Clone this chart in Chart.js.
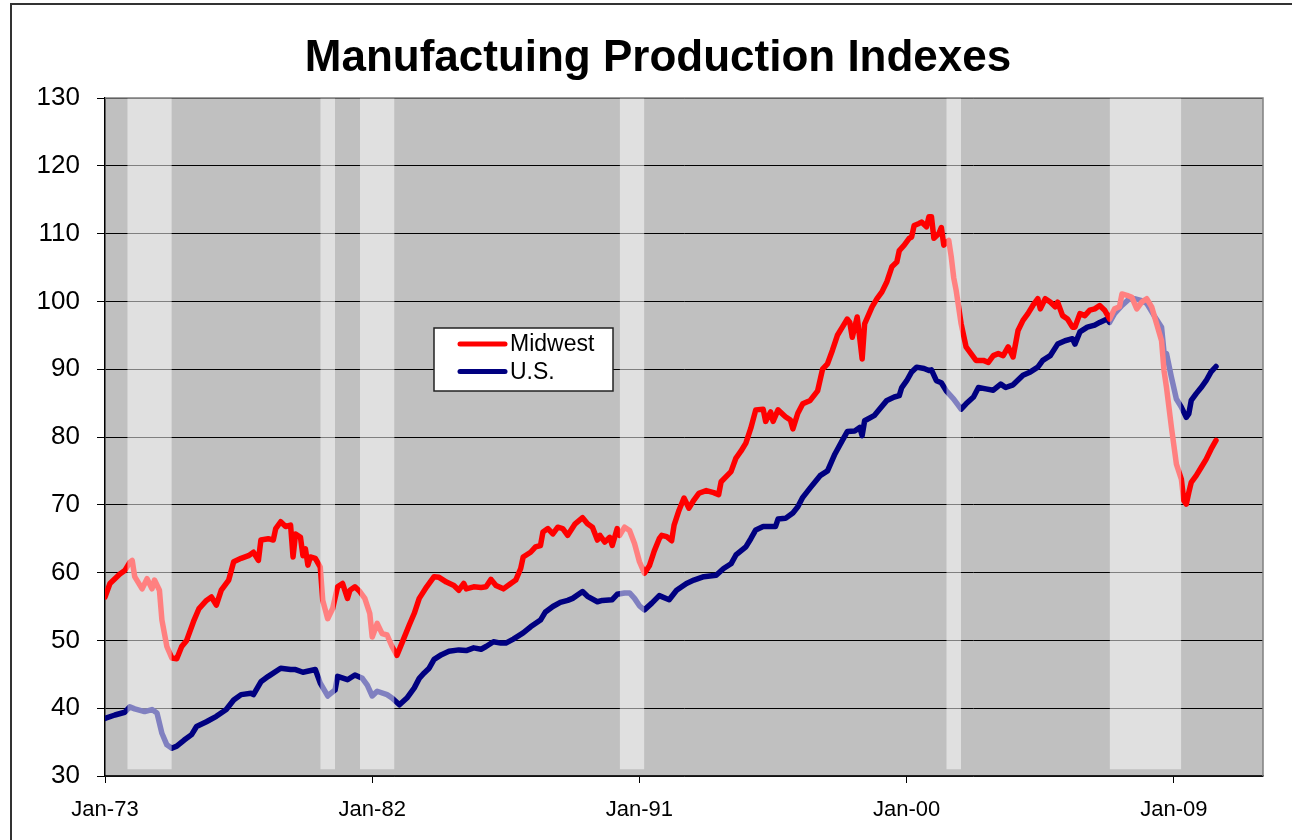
<!DOCTYPE html>
<html lang="en">
<head>
<meta charset="utf-8">
<title>Manufactuing Production Indexes</title>
<script src="https://cdn.jsdelivr.net/npm/chart.js@4.4.1/dist/chart.umd.min.js"></script>
<style>
  html, body { margin: 0; padding: 0; background: #fff; }
  canvas { display: block; }
</style>
</head>
<body>
<canvas id="chart" width="1292" height="840"></canvas>
<script>
// values, month by month where the line turns
const midwestDates = [
  '1973-01','1973-03','1973-05','1973-07','1973-09','1973-11','1973-12','1974-01','1974-04','1974-06',
  '1974-08','1974-09','1974-11','1974-12','1975-02','1975-04','1975-06','1975-08','1975-10','1976-01',
  '1976-03','1976-06','1976-08','1976-10','1976-12','1977-03','1977-05','1977-08','1977-11','1978-01',
  '1978-03','1978-04','1978-07','1978-09','1978-10','1978-12','1979-02','1979-04','1979-05','1979-06',
  '1979-08','1979-09','1979-10','1979-11','1979-12','1980-02','1980-04','1980-05','1980-07','1980-09',
  '1980-11','1981-01','1981-03','1981-04','1981-06','1981-08','1981-10','1981-12','1982-01','1982-03',
  '1982-05','1982-07','1982-09','1982-11','1983-01','1983-04','1983-06','1983-08','1983-11','1984-02',
  '1984-04','1984-07','1984-10','1984-12','1985-02','1985-03','1985-06','1985-09','1985-11','1986-01',
  '1986-03','1986-06','1986-09','1986-11','1987-01','1987-02','1987-05','1987-07','1987-09','1987-10',
  '1987-12','1988-02','1988-04','1988-06','1988-08','1988-11','1989-02','1989-04','1989-06','1989-08',
  '1989-09','1989-11','1990-01','1990-02','1990-04','1990-05','1990-07','1990-09','1990-11','1991-01',
  '1991-03','1991-05','1991-07','1991-09','1991-10','1991-12','1992-02','1992-03','1992-05','1992-07',
  '1992-09','1992-11','1993-01','1993-04','1993-07','1993-09','1993-10','1994-02','1994-04','1994-06',
  '1994-08','1994-10','1994-12','1995-03','1995-04','1995-06','1995-07','1995-09','1995-12','1996-02',
  '1996-03','1996-05','1996-07','1996-10','1997-01','1997-03','1997-05','1997-07','1997-09','1997-11',
  '1998-01','1998-02','1998-03','1998-05','1998-06','1998-07','1998-08','1998-11','1999-01','1999-03',
  '1999-05','1999-07','1999-09','1999-10','1999-12','2000-02','2000-03','2000-04','2000-06','2000-07',
  '2000-09','2000-10','2000-11','2000-12','2001-02','2001-03','2001-04','2001-06','2001-07','2001-08',
  '2001-09','2001-11','2002-01','2002-03','2002-05','2002-08','2002-10','2002-12','2003-02','2003-04',
  '2003-06','2003-08','2003-10','2003-12','2004-02','2004-04','2004-06','2004-07','2004-09','2004-11',
  '2005-01','2005-02','2005-04','2005-06','2005-08','2005-09','2005-11','2006-01','2006-03','2006-05',
  '2006-07','2006-09','2006-11','2007-01','2007-03','2007-04','2007-06','2007-08','2007-10','2007-12',
  '2008-02','2008-04','2008-06','2008-08','2008-09','2008-10','2008-12','2009-02','2009-04','2009-05',
  '2009-06','2009-07','2009-08','2009-10','2009-12','2010-02','2010-04','2010-06'
];
const midwest = [
  56.4, 58.4, 59.1, 59.8, 60.3, 61.5, 61.8, 59.4, 57.6, 59.1,
  57.6, 58.9, 57.4, 53.0, 49.1, 47.4, 47.3, 49.1, 50.0, 53.0,
  54.7, 55.9, 56.4, 55.2, 57.4, 58.9, 61.6, 62.1, 62.5, 63.0,
  61.8, 64.8, 65.0, 64.8, 66.5, 67.5, 66.8, 67.0, 62.3, 65.7,
  65.2, 62.5, 63.5, 61.1, 62.3, 62.1, 60.8, 55.9, 53.2, 54.7,
  57.9, 58.4, 56.2, 57.4, 57.9, 57.2, 56.2, 54.0, 50.5, 52.5,
  51.0, 50.8, 49.1, 47.8, 49.6, 52.3, 54.0, 56.2, 57.9, 59.4,
  59.3, 58.6, 58.1, 57.4, 58.4, 57.6, 57.9, 57.8, 57.9, 59.0,
  58.1, 57.6, 58.4, 58.9, 60.6, 62.3, 63.0, 63.8, 64.0, 66.0,
  66.5, 65.7, 66.7, 66.5, 65.5, 67.2, 68.1, 67.2, 66.7, 64.8,
  65.5, 64.5, 65.2, 64.0, 66.5, 65.5, 66.7, 66.2, 64.3, 61.6,
  59.9, 61.0, 63.2, 65.0, 65.5, 65.3, 64.7, 67.0, 69.2, 71.0,
  69.5, 70.7, 71.7, 72.1, 71.8, 71.5, 73.4, 74.9, 76.9, 77.9,
  79.1, 81.3, 84.0, 84.1, 82.3, 83.7, 82.3, 84.0, 83.0, 82.5,
  81.2, 83.5, 84.9, 85.4, 86.8, 90.0, 90.8, 92.8, 95.0, 96.2,
  97.4, 96.9, 94.7, 97.7, 94.7, 91.5, 96.7, 99.2, 100.4, 101.4,
  102.9, 105.1, 105.8, 107.5, 108.3, 109.3, 109.5, 111.2, 111.5, 111.7,
  111.0, 112.5, 112.5, 109.3, 110.0, 110.9, 108.3, 109.0, 106.6, 103.5,
  101.6, 96.7, 93.3, 92.3, 91.3, 91.3, 91.0, 92.0, 92.3, 92.0,
  93.3, 91.8, 95.7, 97.2, 98.2, 99.4, 100.4, 98.9, 100.4, 99.9,
  99.2, 99.9, 97.9, 97.4, 96.2, 96.2, 98.2, 97.9, 98.7, 98.9,
  99.4, 98.7, 97.4, 98.9, 99.2, 101.1, 100.9, 100.6, 98.9, 99.9,
  100.4, 99.2, 96.7, 94.2, 89.8, 87.3, 81.4, 76.0, 73.8, 70.6,
  70.1, 71.8, 73.3, 74.3, 75.5, 76.7, 78.2, 79.5
];

const usDates = [
  '1973-01','1973-05','1973-09','1973-11','1974-01','1974-05','1974-08','1974-10','1974-12','1975-02',
  '1975-04','1975-06','1975-09','1975-12','1976-02','1976-06','1976-10','1977-02','1977-05','1977-08',
  '1977-12','1978-01','1978-04','1978-07','1978-12','1979-04','1979-06','1979-09','1980-02','1980-04',
  '1980-07','1980-10','1980-11','1981-03','1981-06','1981-09','1981-11','1982-01','1982-03','1982-07',
  '1982-09','1982-12','1983-03','1983-06','1983-08','1983-10','1983-12','1984-02','1984-05','1984-08',
  '1984-12','1985-03','1985-06','1985-09','1985-11','1986-02','1986-05','1986-07','1986-10','1987-02',
  '1987-05','1987-09','1987-11','1988-02','1988-05','1988-08','1988-10','1989-02','1989-04','1989-08',
  '1989-10','1990-02','1990-04','1990-07','1990-09','1990-11','1991-01','1991-03','1991-06','1991-09',
  '1992-01','1992-04','1992-08','1992-11','1993-03','1993-08','1993-11','1994-02','1994-04','1994-08',
  '1994-10','1994-12','1995-03','1995-06','1995-08','1995-09','1995-12','1996-03','1996-05','1996-07',
  '1996-10','1997-02','1997-05','1997-08','1997-11','1998-01','1998-04','1998-06','1998-07','1998-08',
  '1998-12','1999-02','1999-05','1999-08','1999-10','1999-11','2000-01','2000-03','2000-05','2000-08',
  '2000-10','2000-11','2001-01','2001-03','2001-05','2001-08','2001-11','2002-01','2002-04','2002-06',
  '2002-09','2002-12','2003-03','2003-05','2003-08','2003-12','2004-03','2004-06','2004-08','2004-11',
  '2005-02','2005-05','2005-08','2005-09','2005-11','2006-02','2006-05','2006-07','2006-10','2006-11',
  '2007-01','2007-04','2007-07','2007-09','2007-12','2008-02','2008-05','2008-08','2008-09','2008-10',
  '2008-12','2009-02','2009-04','2009-06','2009-07','2009-08','2009-10','2009-12','2010-02','2010-04',
  '2010-06'
];
const us = [
  38.5, 39.0, 39.4, 40.2, 39.9, 39.5, 39.8, 39.3, 36.3, 34.6,
  34.1, 34.4, 35.3, 36.1, 37.3, 38.0, 38.8, 39.8, 41.2, 42.0,
  42.2, 42.0, 43.9, 44.7, 45.9, 45.7, 45.7, 45.3, 45.7, 43.7,
  41.8, 42.7, 44.7, 44.2, 44.9, 44.4, 43.4, 41.8, 42.5, 42.0,
  41.5, 40.5, 41.5, 43.0, 44.4, 45.2, 45.9, 47.2, 47.9, 48.4,
  48.6, 48.5, 48.9, 48.7, 49.1, 49.8, 49.6, 49.6, 50.2, 51.1,
  52.0, 53.0, 54.2, 55.0, 55.6, 55.9, 56.2, 57.2, 56.5, 55.7,
  55.9, 56.0, 56.8, 57.0, 57.0, 56.2, 55.1, 54.5, 55.5, 56.6,
  56.0, 57.4, 58.4, 58.9, 59.4, 59.6, 60.6, 61.3, 62.6, 63.8,
  65.0, 66.3, 66.8, 66.8, 66.8, 67.9, 68.0, 68.8, 69.7, 71.1,
  72.5, 74.3, 75.0, 77.5, 79.5, 80.8, 80.9, 81.4, 80.2, 82.4,
  83.2, 84.1, 85.4, 85.9, 86.1, 87.3, 88.3, 89.6, 90.3, 90.1,
  89.8, 89.9, 88.3, 88.0, 86.8, 85.6, 84.1, 84.9, 85.9, 87.3,
  87.1, 86.9, 87.8, 87.3, 87.7, 89.1, 89.6, 90.3, 91.3, 92.0,
  93.7, 94.2, 94.5, 93.7, 95.5, 96.2, 96.5, 96.9, 97.4, 96.9,
  98.2, 99.4, 100.4, 100.4, 100.1, 99.7, 97.9, 96.2, 92.5, 92.3,
  88.8, 85.6, 84.4, 82.9, 83.4, 85.4, 86.4, 87.3, 88.3, 89.6,
  90.4
];

// recession shading
const recessionStart = ['1973-10', '1980-04', '1981-08', '1990-05', '2001-05', '2006-11'];
const recessionEnd   = ['1975-04', '1980-10', '1982-10', '1991-03', '2001-11', '2009-04'];

const tickYears  = [1973, 1982, 1991, 2000, 2009];
const tickLabels = ['Jan-73', 'Jan-82', 'Jan-91', 'Jan-00', 'Jan-09'];

function toYear(s) {
    const [y, m] = s.split('-').map(Number);
    return y + (m - 1) / 12;
}

const FONT = '"Liberation Sans", Arial, sans-serif';

const lineSets = [
    { label: 'Midwest', dates: midwestDates, values: midwest, color: '#ff0000' },
    { label: 'U.S.', dates: usDates, values: us, color: '#000080' }
].map(s => ({
    type: 'line',
    label: s.label,
    data: s.dates.map((d, i) => ({ x: toYear(d), y: s.values[i] })),
    borderColor: s.color,
    backgroundColor: s.color,
    borderWidth: 5.5,
    borderCapStyle: 'round',
    borderJoinStyle: 'round',
    pointRadius: 0,
    tension: 0,
    fill: false,
    order: 2
}));

// the bands sit on top of the lines, half transparent, like the original
const bandSets = recessionStart.map((s, i) => ({
    type: 'line',
    label: 'band',
    data: [{ x: toYear(s), y: 130 }, { x: toYear(recessionEnd[i]), y: 130 }],
    borderWidth: 0,
    pointRadius: 0,
    backgroundColor: 'rgba(255,255,255,0.5)',
    fill: { value: 31 },
    order: 1
}));

const frame = {
    id: 'frame',
    beforeDraw(chart) {
        const { ctx, chartArea: a } = chart;
        ctx.save();
        ctx.fillStyle = '#fff';
        ctx.fillRect(0, 0, chart.width, chart.height);
        ctx.fillStyle = '#c0c0c0';
        ctx.fillRect(a.left, a.top, a.right - a.left, a.bottom - a.top);
        ctx.strokeStyle = '#333';
        ctx.lineWidth = 2;
        ctx.beginPath();
        ctx.moveTo(11, chart.height);
        ctx.lineTo(11, 4);
        ctx.lineTo(chart.width, 4);
        ctx.stroke();
        ctx.restore();
    },
    afterDraw(chart) {
        const { ctx, chartArea: a } = chart;
        ctx.save();
        ctx.strokeStyle = '#808080';
        ctx.lineWidth = 1.5;
        ctx.beginPath();
        ctx.moveTo(a.left, a.top);
        ctx.lineTo(a.right, a.top);
        ctx.lineTo(a.right, a.bottom);
        ctx.stroke();

        // title
        ctx.fillStyle = '#000';
        ctx.font = 'bold 44px ' + FONT;
        ctx.textAlign = 'center';
        ctx.textBaseline = 'middle';
        ctx.fillText('Manufactuing Production Indexes', 658, 59);

        // legend box
        const lx = 434, ly = 328, lw = 179, lh = 63;
        ctx.fillStyle = '#fff';
        ctx.fillRect(lx, ly, lw, lh);
        ctx.strokeStyle = '#222';
        ctx.lineWidth = 1.5;
        ctx.strokeRect(lx, ly, lw, lh);
        ctx.font = '23px ' + FONT;
        ctx.textAlign = 'left';
        ctx.lineCap = 'round';
        lineSets.forEach((ds, i) => {
            const y = ly + 16 + i * 27.5;
            ctx.strokeStyle = ds.borderColor;
            ctx.lineWidth = 5;
            ctx.beginPath();
            ctx.moveTo(lx + 26, y);
            ctx.lineTo(lx + 71, y);
            ctx.stroke();
            ctx.fillStyle = '#000';
            ctx.fillText(ds.label, lx + 76, y + 1);
        });
        ctx.restore();
    }
};

new Chart(document.getElementById('chart'), {
    type: 'line',
    data: { datasets: [...lineSets, ...bandSets] },
    options: {
        responsive: false,
        animation: false,
        devicePixelRatio: 1,
        layout: { padding: { top: 98, right: 29, bottom: 0, left: 0 } },
        plugins: {
            legend: { display: false },
            title: { display: false },
            tooltip: { enabled: false }
        },
        scales: {
            x: {
                type: 'linear',
                min: 1973,
                max: 2012,
                afterFit(s) { s.height = 64; },
                afterBuildTicks(s) { s.ticks = tickYears.map(v => ({ value: v })); },
                grid: { drawOnChartArea: false, color: '#000', tickLength: 7 },
                border: { color: '#222', width: 1.5 },
                ticks: {
                    autoSkip: false,
                    maxRotation: 0,
                    padding: 14,
                    color: '#000',
                    font: { family: FONT, size: 22 },
                    callback: (v, i) => tickLabels[i]
                }
            },
            y: {
                min: 30,
                max: 130,
                afterFit(s) { s.width = 105; },
                grid: { color: '#000', lineWidth: 1, tickLength: 8 },
                border: { color: '#000', width: 1.5 },
                ticks: {
                    stepSize: 10,
                    padding: 17,
                    color: '#000',
                    font: { family: FONT, size: 26 }
                }
            }
        }
    },
    plugins: [frame]
});
</script>
</body>
</html>
